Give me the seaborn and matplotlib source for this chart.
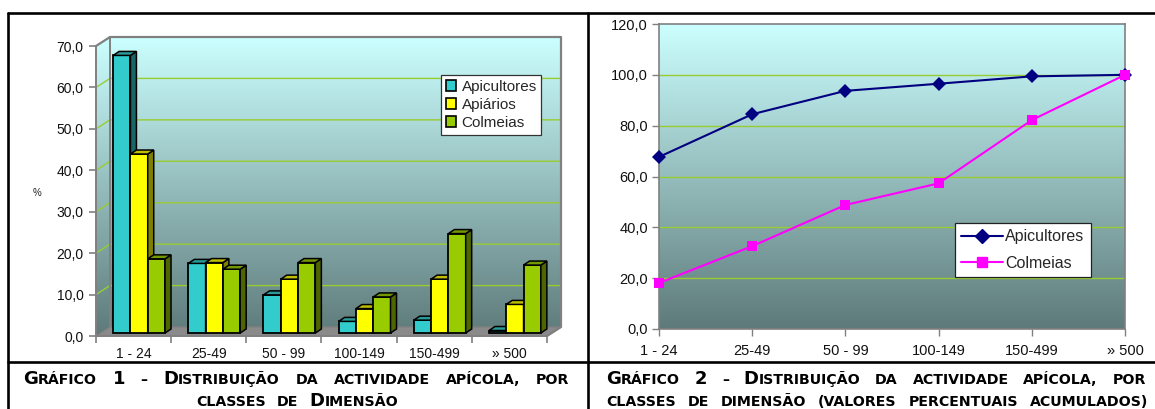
import numpy as np
import pandas as pd
import matplotlib
matplotlib.use("Agg")
import matplotlib.pyplot as plt
import matplotlib.transforms as mtransforms
import seaborn as sns
from matplotlib.patches import Polygon, Patch, Rectangle
from matplotlib.lines import Line2D
from matplotlib.ticker import FuncFormatter

# ---------------- data ----------------
classes = ["1 - 24", "25-49", "50 - 99", "100-149", "150-499", "» 500"]
series1 = ["Apicultores", "Apiários", "Colmeias"]
apicultores = [67.0, 16.8, 9.2, 2.8, 3.1, 0.6]
apiarios = [43.2, 17.0, 13.0, 5.9, 13.0, 6.9]
colmeias = [17.9, 15.4, 17.0, 8.7, 24.0, 16.4]

series2 = ["Apicultores", "Colmeias"]
cum_apicultores = [67.7, 84.5, 93.7, 96.5, 99.4, 100.0]
cum_colmeias = [18.1, 32.6, 48.8, 57.3, 82.2, 100.0]

left_yticks = [0, 10, 20, 30, 40, 50, 60, 70]
right_yticks = [0, 20, 40, 60, 80, 100, 120]

# '^' marks a full-size capital; everything else is drawn as small caps
caption1_l1 = "^GRÁFICO ^1 – ^DISTRIBUIÇÃO DA ACTIVIDADE APÍCOLA, POR"
caption1_l2 = "CLASSES DE ^DIMENSÃO"
caption2_l1 = "^GRÁFICO ^2 – ^DISTRIBUIÇÃO DA ACTIVIDADE APÍCOLA, POR"
caption2_l2 = "CLASSES DE DIMENSÃO (VALORES PERCENTUAIS ACUMULADOS)"

# ---------------- style ----------------
sns.set_theme(style="white")
plt.rcParams["font.family"] = ["Liberation Sans", "DejaVu Sans"]

W, H = 1155, 409
fig = plt.figure(figsize=(W / 100, H / 100), dpi=100)
fig.patch.set_facecolor("white")

GRID = "#99CC33"
GRAY = "#808080"
TOP_C = np.array([204, 255, 255]) / 255
BOT_C = np.array([94, 122, 122]) / 255
grad = np.linspace(0, 1, 256)[:, None, None] * (BOT_C - TOP_C) + TOP_C
grad = np.repeat(grad, 2, axis=1)

fmt = FuncFormatter(lambda v, p: f"{v:.1f}".replace(".", ","))

# ---------------- left chart (pseudo-3D bars) ----------------
L_X0, L_X1, L_YT, L_Y0 = 96, 547, 46, 336
ax1 = fig.add_axes([L_X0 / W, (H - L_Y0) / H, (L_X1 - L_X0) / W, (L_Y0 - L_YT) / H])
ux = 6 / (L_X1 - L_X0)
uy = 70 / (L_Y0 - L_YT)
DX, DY = 14 * ux, 9 * uy           # wall depth
BX, BY = 5.5 * ux, 3 * uy           # bar front offset
ddx, ddy = 6 * ux, 4 * uy           # bar depth
ax1.patch.set_visible(False)

df1 = pd.DataFrame({
    "Classe": classes * 3,
    "Serie": [s for s in series1 for _ in classes],
    "Valor": apicultores + apiarios + colmeias,
})
front = {"Apicultores": "#33CCCC", "Apiários": "#FFFF00", "Colmeias": "#99CC00"}
side = {"Apicultores": "#1A6666", "Apiários": "#808000", "Colmeias": "#4D6600"}
topc = {"Apicultores": "#2A9999", "Apiários": "#BFBF00", "Colmeias": "#739900"}
sns.barplot(data=df1, x="Classe", y="Valor", hue="Serie", order=classes, hue_order=series1,
            palette=front, width=0.69, gap=0, edgecolor="black", linewidth=1.3,
            saturation=1, legend=False, ax=ax1)
bars = [p for p in ax1.patches if isinstance(p, Rectangle) and p.get_height() > 0]

im = ax1.imshow(grad, extent=(-0.5, 5.5 + DX, 0, 70 + DY), aspect="auto", zorder=0,
                interpolation="bilinear")
clip_poly = Polygon([(-0.5, 0), (-0.5, 70), (-0.5 + DX, 70 + DY), (5.5 + DX, 70 + DY),
                     (5.5 + DX, DY), (5.5, 0)], closed=True, transform=ax1.transData)
im.set_clip_path(clip_poly)
im.set_clip_box(fig.bbox)
ax1.set_xlim(-0.5, 5.5)
ax1.set_ylim(0, 70)

for v in left_yticks[1:-1]:
    ax1.plot([-0.5, -0.5 + DX, 5.5 + DX], [v, v + DY, v + DY], color=GRID, lw=1.0,
             clip_on=False, zorder=1)
floor = Polygon([(-0.5, 0), (5.5, 0), (5.5 + DX, DY), (-0.5 + DX, DY)], closed=True,
                facecolor="#8a8a8a", edgecolor=GRAY, lw=1.0, clip_on=False, zorder=1.5)
ax1.add_patch(floor)
ax1.plot([-0.5, -0.5 + DX, 5.5 + DX, 5.5 + DX, 5.5], [70, 70 + DY, 70 + DY, DY, 0],
         color=GRAY, lw=1.6, clip_on=False, zorder=1.6)
ax1.plot([-0.5 + DX, -0.5 + DX], [DY, 70 + DY], color=GRAY, lw=1.4, clip_on=False, zorder=1.6)

fc_to_series = {matplotlib.colors.to_hex(v): k for k, v in front.items()}
bars.sort(key=lambda p: p.get_x())
for k, p in enumerate(bars):
    name = fc_to_series[matplotlib.colors.to_hex(p.get_facecolor())]
    p.set_x(p.get_x() + BX)
    p.set_y(BY)
    p.set_clip_on(False)
    z = 3 + k * 0.01
    p.set_zorder(z)
    x0, w, h = p.get_x(), p.get_width(), p.get_height()
    x1 = x0 + w
    y0, y1 = BY, BY + h
    sp = Polygon([(x1, y0), (x1 + ddx, y0 + ddy), (x1 + ddx, y1 + ddy), (x1, y1)], closed=True,
                 facecolor=side[name], edgecolor="black", lw=1.1, clip_on=False, zorder=z + 0.002)
    tp = Polygon([(x0, y1), (x1, y1), (x1 + ddx, y1 + ddy), (x0 + ddx, y1 + ddy)], closed=True,
                 facecolor=topc[name], edgecolor="black", lw=1.1, clip_on=False, zorder=z + 0.003)
    ax1.add_patch(sp)
    ax1.add_patch(tp)

for s in ["top", "right"]:
    ax1.spines[s].set_visible(False)
for s in ["left", "bottom"]:
    ax1.spines[s].set_visible(True)
    ax1.spines[s].set_color(GRAY)
    ax1.spines[s].set_linewidth(1.4)
    ax1.spines[s].set_zorder(2)
ax1.set_yticks(left_yticks)
ax1.yaxis.set_major_formatter(fmt)
ax1.set_xticks([i - 0.5 for i in range(len(classes) + 1)], labels=[""] * (len(classes) + 1))
ax1.set_xticks(range(len(classes)), labels=classes, minor=True)
ax1.tick_params(axis="y", which="major", direction="out", length=5, width=1.2, color=GRAY,
                labelsize=10, pad=4, left=True, labelcolor="#111111")
ax1.tick_params(axis="x", which="major", direction="out", length=5, width=1.2, color=GRAY,
                bottom=True)
ax1.tick_params(axis="x", which="minor", length=0, labelsize=10, pad=8, labelcolor="#111111")
ax1.set_xlabel("")
ax1.set_ylabel("")
ax1.set_xlim(-0.5, 5.5)
ax1.set_ylim(0, 70)
fig.text(37 / W, 1 - 193 / H, "%", fontsize=7, ha="center", va="center", color="#222222")

h1 = [Patch(facecolor=front[s], edgecolor="black", linewidth=1.2) for s in series1]
leg1 = fig.legend(h1, series1, loc="upper left", bbox_to_anchor=(441 / W, 1 - 75 / H),
                  bbox_transform=fig.transFigure, borderaxespad=0, frameon=True, fancybox=False,
                  framealpha=1, edgecolor="#333333", fontsize=11, handlelength=0.7,
                  handleheight=0.7, handletextpad=0.35, labelspacing=0.28, borderpad=0.3)
leg1.get_frame().set_linewidth(0.9)

# ---------------- right chart (cumulative lines) ----------------
R_X0, R_X1, R_YT, R_Y0 = 659, 1125, 24, 329
ax2 = fig.add_axes([R_X0 / W, (H - R_Y0) / H, (R_X1 - R_X0) / W, (R_Y0 - R_YT) / H])
df2 = pd.DataFrame({
    "Classe": classes * 2,
    "Serie": [s for s in series2 for _ in classes],
    "Valor": cum_apicultores + cum_colmeias,
})
sns.lineplot(data=df2, x="Classe", y="Valor", hue="Serie", style="Serie", hue_order=series2,
             style_order=series2, palette={"Apicultores": "#000080", "Colmeias": "#FF00FF"},
             markers={"Apicultores": "D", "Colmeias": "s"}, dashes=False, markersize=7,
             markeredgewidth=0, linewidth=1.5, legend=False, ax=ax2, sort=False)
for ln in ax2.lines:
    ln.set_clip_on(False)
    ln.set_zorder(3)
ax2.imshow(grad, extent=(0, 5, 0, 120), aspect="auto", zorder=0, interpolation="bilinear")
ax2.hlines(right_yticks[1:-1], 0, 5, colors=GRID, lw=1.0, zorder=1)
ax2.set_xlim(0, 5)
ax2.set_ylim(0, 120)
ax2.set_xticks(range(len(classes)), labels=classes)
ax2.set_yticks(right_yticks)
ax2.yaxis.set_major_formatter(fmt)
for s in ax2.spines.values():
    s.set_visible(True)
    s.set_color(GRAY)
    s.set_linewidth(1.2)
ax2.tick_params(axis="both", direction="out", length=5, width=1.0, color=GRAY, labelsize=10.5,
                labelcolor="#111111", left=True, bottom=True)
ax2.tick_params(axis="y", pad=3)
ax2.tick_params(axis="x", pad=6)
ax2.set_xlabel("")
ax2.set_ylabel("")

h2 = [Line2D([0], [0], color="#000080", marker="D", markersize=7, lw=1.5),
      Line2D([0], [0], color="#FF00FF", marker="s", markersize=7, lw=1.5)]
leg2 = fig.legend(h2, series2, loc="upper left", bbox_to_anchor=(955 / W, 1 - 223 / H),
                  bbox_transform=fig.transFigure, borderaxespad=0, frameon=True, fancybox=False,
                  framealpha=1, edgecolor="#222222", fontsize=11.5, handlelength=2.6,
                  handletextpad=0.15, labelspacing=0.7, borderpad=0.4)
leg2.get_frame().set_linewidth(0.9)

# ---------------- frame lines ----------------
LW = 1.9
for xs, ys in [([7.5, W], [12.5, 12.5]), ([7.5, 7.5], [12.5, H]), ([587.5, 587.5], [12.5, H]),
               ([7.5, W], [362, 362])]:
    fig.add_artist(Line2D([x / W for x in xs], [1 - y / H for y in ys], color="black", lw=LW,
                          transform=fig.transFigure))

# ---------------- small-caps captions ----------------
renderer = fig.canvas.get_renderer()
CAP_FAMILY = ["DejaVu Sans"]
ident = mtransforms.IdentityTransform()
BIG0, SMALL0 = 13.0, 10.2


def parse_word(word, big, small):
    pieces, i = [], 0
    while i < len(word):
        if word[i] == "^":
            pieces.append((word[i + 1], big))
            i += 2
        else:
            j = i
            while j < len(word) and word[j] != "^":
                j += 1
            pieces.append((word[i:j], small))
            i = j
    return pieces


def measure(text, size):
    t = fig.text(0, 0, text, fontsize=size, fontweight="bold", family=CAP_FAMILY, transform=ident)
    w = t.get_window_extent(renderer=renderer).width
    t.remove()
    return w


def layout(caption, big, small):
    words = [parse_word(w, big, small) for w in caption.split(" ")]
    widths = [sum(measure(t, s) for t, s in wd) for wd in words]
    natural = measure("X X", small) - measure("XX", small)
    return words, widths, natural


def draw_line(caption, x_left, x_right, baseline):
    target = x_right - x_left
    big, small = BIG0, SMALL0
    words, widths, natural = layout(caption, big, small)
    ngaps = len(words) - 1
    nat_total = sum(widths) + natural * ngaps
    if nat_total > target:
        f = target / nat_total
        big, small = big * f, small * f
        words, widths, natural = layout(caption, big, small)
    gap = max(natural, (target - sum(widths)) / ngaps) if ngaps else 0
    total = sum(widths) + gap * ngaps
    x = (x_left + x_right) / 2 - total / 2
    for wd, ww in zip(words, widths):
        xx = x
        for text, size in wd:
            t = fig.text(xx, H - baseline, text, fontsize=size, fontweight="bold",
                         family=CAP_FAMILY, transform=ident, ha="left", va="baseline",
                         color="black")
            xx += t.get_window_extent(renderer=renderer).width
        x += ww + gap


draw_line(caption1_l1, 23, 569, 384)
draw_line(caption1_l2, 196, 398, 406.5)
draw_line(caption2_l1, 606, 1146, 384)
draw_line(caption2_l2, 606, 1148, 406.5)

fig.savefig("out.png", dpi=100, facecolor="white")
